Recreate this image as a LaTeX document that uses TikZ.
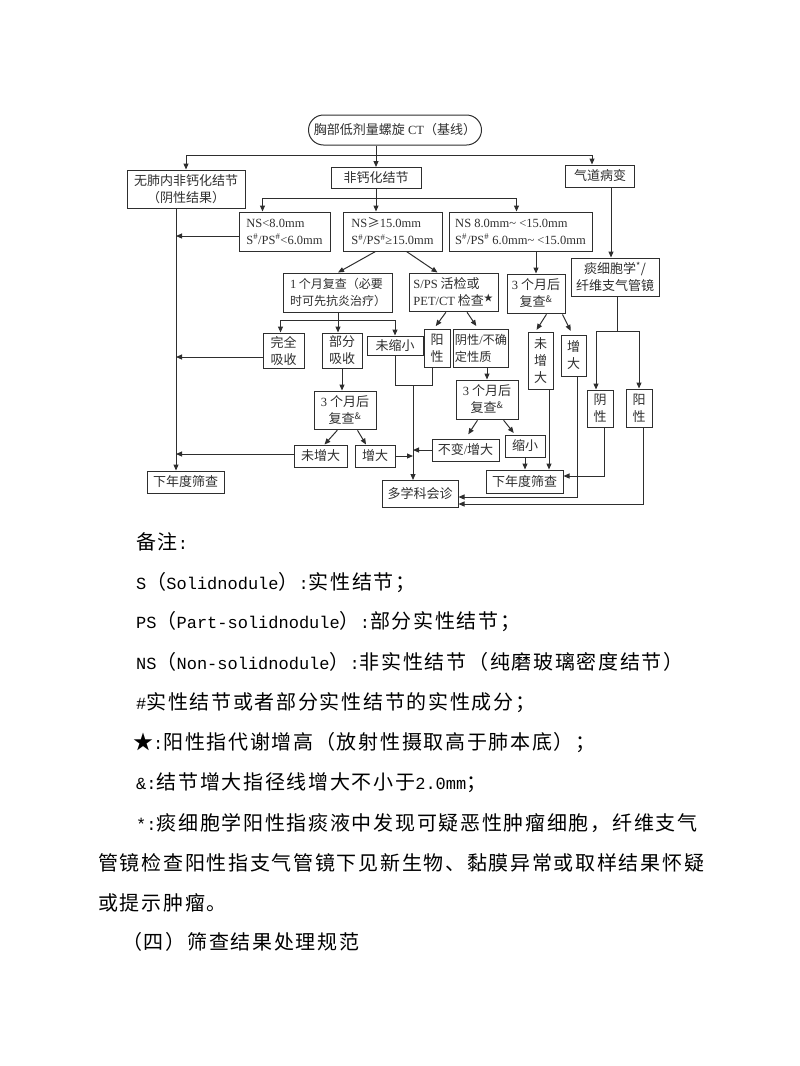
\documentclass[tikz,border=0pt]{standalone}
\usepackage{fontspec}
\setmainfont{Liberation Serif}
\newfontfamily\cjk{Noto Sans CJK SC}
\newfontfamily\cjknote{Noto Sans CJK SC}[LetterSpace=8.5]
\newfontfamily\mono{Liberation Mono}
\usepackage{tikz}
\usetikzlibrary{arrows.meta,positioning,calc}
\colorlet{ink}{black!82}
\newcommand{\tm}[1]{{\rmfamily\fontsize{12.5}{16}\selectfont #1}}
\newcommand{\lat}[1]{{\mono\fontsize{17}{20}\selectfont #1}}

\begin{document}
\begin{tikzpicture}[x=1pt, y=-1pt,
  font=\cjk\fontsize{13}{17}\selectfont, text=ink,
  sz/.style 2 args={minimum width=#1, minimum height=#2},
  box/.style={draw=ink, line width=1pt, align=center, inner sep=1pt},
  lbox/.style={box, align=left},
  num/.style={font=\rmfamily\fontsize{12.5}{17}\selectfont},
  ln/.style={draw=ink, line width=1pt},
  arr/.style={ln, -{Triangle[length=6pt,width=5pt]}},
  diag/.style={arr, shorten <=1pt},
  note/.style={anchor=base west, inner sep=0pt, text=black, font=\cjknote\fontsize{20}{24}\selectfont}]
  \useasboundingbox (0,0) rectangle (800,1066);
  % top: baseline scan and first split
  \node[box, sz={173}{30}, rounded corners=15pt] (ct) at (395,130) {胸部低剂量螺旋\tm{ CT}（基线）};
  \node[box, sz={118}{38}] (wu) at (186,189) {无肺内非钙化结节\\（阴性结果）};
  \node[box, sz={90}{21}] (fei) at (376,178) {非钙化结节};
  \node[box, sz={69}{22}] (qd) at (600,176) {气道病变};
  % size classes
  \node[lbox, num, sz={91}{39}] (ns1) at (284.5,231.5) {NS<8.0mm\\S\textsuperscript{\#}/PS\textsuperscript{\#}<6.0mm};
  \node[lbox, num, sz={99}{39}] (ns2) at (392.5,231.5) {NS{\cjk ≥}15.0mm\\S\textsuperscript{\#}/PS\textsuperscript{\#}≥15.0mm};
  \node[lbox, num, sz={143}{39}] (ns3) at (520.5,231.5) {NS 8.0mm\textasciitilde{} <15.0mm\\S\textsuperscript{\#}/PS\textsuperscript{\#} 6.0mm\textasciitilde{} <15.0mm};
  % follow-up and tests
  \node[lbox, sz={109}{39}, font=\cjk\fontsize{12}{17}\selectfont] (m1) at (338,292.5) {\tm{1} 个月复查（必要\\时可先抗炎治疗）};
  \node[lbox, sz={89}{38}] (bx) at (453.5,292) {\tm{S/PS} 活检或\\\tm{PET/CT} 检查\textsuperscript{★}};
  \node[box, sz={58}{39}] (m3r) at (536,293.5) {\tm{3} 个月后\\复查\textsuperscript{\&}};
  \node[box, sz={88}{38}] (tan) at (615,277) {痰细胞学\textsuperscript{*}/\\纤维支气管镜};
  % results
  \node[box, sz={41}{35}] (wq) at (283.5,350.5) {完全\\吸收};
  \node[box, sz={40}{35}] (bf) at (342,350.5) {部分\\吸收};
  \node[box, sz={56}{19}] (wsx) at (395,345.5) {未缩小};
  \node[box, sz={26}{38}] (yx1) at (437,348) {阳\\性};
  \node[lbox, sz={54}{38}, font=\cjk\fontsize{12.2}{17}\selectfont] (yxq) at (481,348) {阴性\tm{/}不确\\定性质};
  \node[box, sz={25}{57}] (wzd1) at (540.5,360.5) {未\\增\\大};
  \node[box, sz={25}{41}] (zd1) at (573.5,355.5) {增\\大};
  \node[box, sz={26}{37}] (yx2) at (600,408.5) {阴\\性};
  \node[box, sz={26}{38}] (yy2) at (639,408) {阳\\性};
  % second follow-up
  \node[box, sz={62}{38}] (m3l) at (345,410) {\tm{3} 个月后\\复查\textsuperscript{\&}};
  \node[box, sz={62}{39}] (m3m) at (487,399.5) {\tm{3} 个月后\\复查\textsuperscript{\&}};
  \node[box, sz={53}{22}] (wzd2) at (320.5,456) {未增大};
  \node[box, sz={40}{22}] (zd2) at (375,456) {增大};
  \node[box, sz={67}{22}] (bb) at (465.5,450) {不变\tm{/}增大};
  \node[box, sz={40}{22}] (sx) at (525,446) {缩小};
  % outcomes
  \node[box, sz={77}{22}] (nyl) at (185.5,482) {下年度筛查};
  \node[box, sz={77}{23}] (nyr) at (524.5,481.5) {下年度筛查};
  \node[box, sz={76}{27}] (mdt) at (420,494) {多学科会诊};
  % junctions and lanes
  \coordinate (s1) at (376,155);
  \coordinate (s2) at (376,198);
  \coordinate (s3) at (338,320);
  \coordinate (s4) at (617,331);
  \coordinate (j1) at (413,385);
  \coordinate (la) at (176,236);
  \coordinate (lb) at (176,357);
  \coordinate (lc) at (176,454);
  \coordinate (xq) at (611,0);
  \coordinate (xw) at (549,0);
  \coordinate (e1) at (604,476);
  \coordinate (e2) at (577,497);
  \coordinate (e3) at (643,504);
  % connectors
  \draw[ln] (ct.south -| s1) -- (s1);
  \draw[arr] (s1) -- (fei.north);
  \draw[arr] (s1) -| (wu.north);
  \draw[arr] (s1) -| ([xshift=-8pt]qd.north);
  \draw[ln] (fei.south) -- (s2);
  \draw[arr] (s2) -- (s2 |- ns2.north);
  \draw[arr] (s2) -| ([xshift=-22pt]ns1.north);
  \draw[arr] (s2) -| ([xshift=-4pt]ns3.north);
  \draw[arr] (wu.south -| la) -- (nyl.north -| la);
  \draw[arr] (ns1.west |- la) -- (la);
  \draw[arr] (wq.west |- lb) -- (lb);
  \draw[arr] (wzd2.west |- lc) -- (lc);
  \draw[arr] ([xshift=-17pt]ns2.south) -- (m1.north);
  \draw[arr] ([xshift=14pt]ns2.south) -- ([xshift=-16pt]bx.north);
  \draw[arr] (ns3.south -| m3r) -- (m3r.north);
  \draw[arr] (qd.south -| xq) -- (tan.north -| xq);
  \draw[ln] (m1.south) -- (s3);
  \draw[arr] (s3) -| ([xshift=-3pt]wq.north);
  \draw[arr] (s3) -- (s3 |- bf.north);
  \draw[arr] (s3) -| (wsx.north);
  \draw[diag, shorten >=3pt] ([xshift=-7pt]bx.south) -- ([xshift=-3pt]yx1.north);
  \draw[diag, shorten >=3pt] ([xshift=13pt]bx.south) -- ([xshift=-3pt]yxq.north);
  \draw[diag, shorten >=2pt] ([xshift=11pt]m3r.south) -- ([xshift=-5pt]wzd1.north);
  \draw[diag, shorten >=4pt] ([xshift=26pt]m3r.south) -- ([xshift=-1pt]zd1.north);
  \draw[ln] (tan.south -| s4) -- (s4);
  \draw[arr] (s4) -| ([xshift=-4pt]yx2.north);
  \draw[arr] (s4) -| (yy2.north);
  \draw[arr] (bf.south) -- (bf.south |- m3l.north);
  \draw[diag] ([xshift=-7pt]m3l.south) -- ([xshift=4pt]wzd2.north);
  \draw[diag] ([xshift=12pt]m3l.south) -- ([xshift=-9pt]zd2.north);
  \draw[ln] (wsx.south) |- (j1);
  \draw[ln] ([xshift=-5pt]yx1.south) |- (j1);
  \draw[arr] (j1) -- (j1 |- mdt.north);
  \draw[arr] (zd2.east) -- (zd2.east -| j1);
  \draw[arr] (bb.west) -- (bb.west -| j1);
  \draw[arr] (yxq.south -| m3m) -- (m3m.north);
  \draw[diag, shorten >=5pt] ([xshift=-9pt]m3m.south) -- (bb.north);
  \draw[diag, shorten >=2pt] ([xshift=16pt]m3m.south) -- ([xshift=-10pt]sx.north);
  \draw[arr] (sx.south) -- (sx.south |- nyr.north);
  \draw[arr] (wzd1.south -| xw) -- (nyr.north -| xw);
  \draw[arr] (yx2.south -| e1) -- (e1) -- (e1 -| nyr.east);
  \draw[arr] (zd1.south -| e2) -- (e2) -- (e2 -| mdt.east);
  \draw[arr] (yy2.south -| e3) -- (e3) -- (e3 -| mdt.east);
  % notes
  \node[note] (n0) at (136,549) {备注\lat{:}};
  \node[note] (n1) at (136,589) {\lat{S}（\lat{Solidnodule}）\lat{:}实性结节；};
  \node[note] (n2) at (136,628) {\lat{PS}（\lat{Part-solidnodule}）\lat{:}部分实性结节；};
  \node[note] (n3) at (136,669) {\lat{NS}（\lat{Non-solidnodule}）\lat{:}非实性结节（纯磨玻璃密度结节）};
  \node[note] (n4) at (136,709) {\lat{\#}实性结节或者部分实性结节的实性成分；};
  \node[note] (n5) at (133,749) {★\lat{:}阳性指代谢增高（放射性摄取高于肺本底）；};
  \node[note] (n6) at (136,789) {\lat{\&:}结节增大指径线增大不小于\lat{2.0mm}；};
  \node[note] (n7) at (136,830) {\lat{*:}痰细胞学阳性指痰液中发现可疑恶性肿瘤细胞，纤维支气};
  \node[note] (n8) at (98,870) {管镜检查阳性指支气管镜下见新生物、黏膜异常或取样结果怀疑};
  \node[note] (n9) at (98,910) {或提示肿瘤。};
  \node[note] (n10) at (122,949) {（四）筛查结果处理规范};
\end{tikzpicture}
\end{document}
